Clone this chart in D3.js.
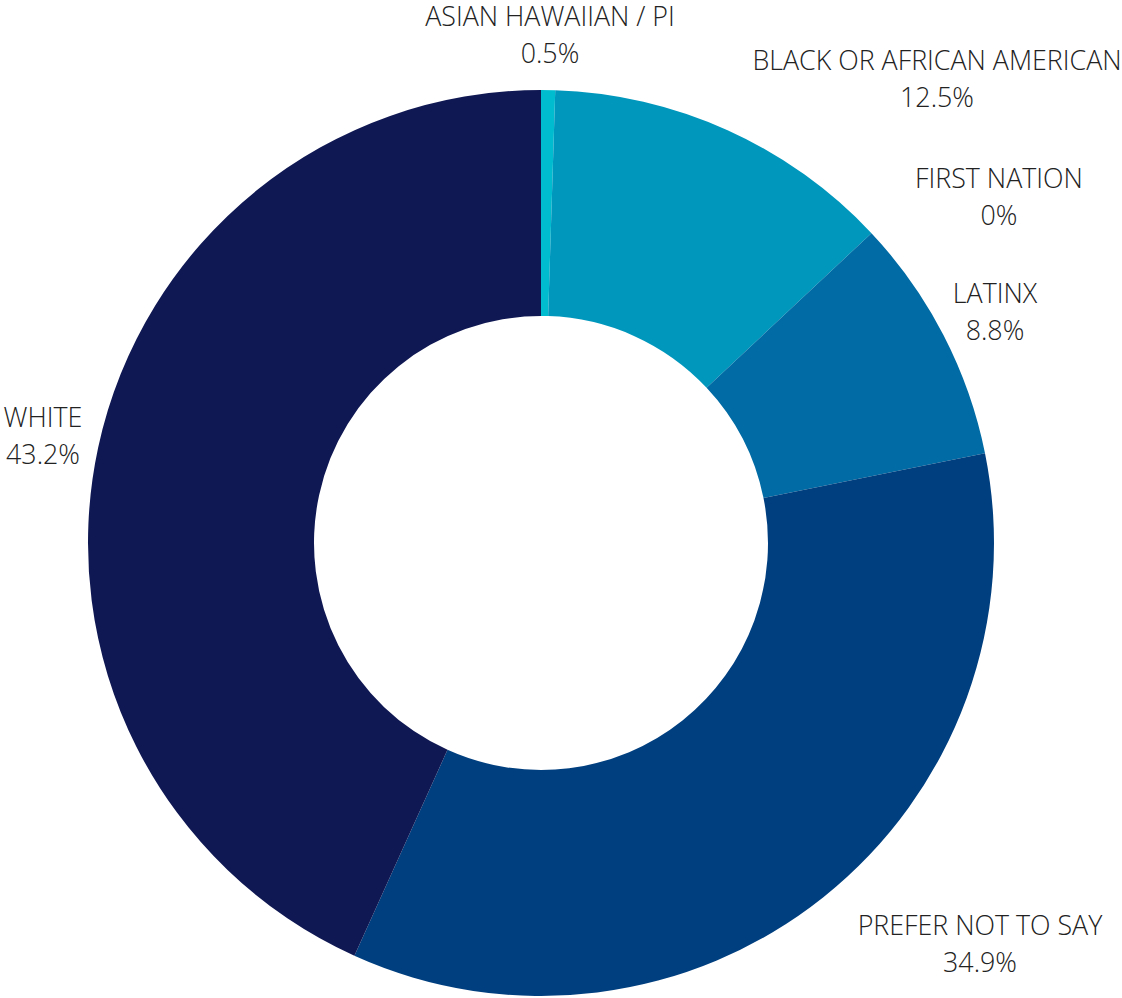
<!DOCTYPE html>
<html>
<head>
<meta charset="utf-8">
<script src="https://cdn.jsdelivr.net/npm/d3@7"></script>
<style>
  body { margin: 0; background: #fff; }
  text { font-family: "Open Sans", sans-serif; font-weight: 300; fill: #222; }
</style>
</head>
<body>
<svg id="chart"></svg>
<script>
// data
const categories = ['ASIAN HAWAIIAN / PI', 'BLACK OR AFRICAN AMERICAN', 'FIRST NATION', 'LATINX', 'PREFER NOT TO SAY', 'WHITE'];
const values = [0.5, 12.5, 0, 8.8, 34.9, 43.2];
const valueLabels = ['0.5%', '12.5%', '0%', '8.8%', '34.9%', '43.2%'];
const colors = ['#00bccf', '#0097bd', '#0097bd', '#006ba4', '#003f7f', '#101853'];

// label anchors (x, first baseline) - hand placed like the original layout
const labelLayout = [
  { x: 550, y: 26 },
  { x: 937, y: 70 },
  { x: 999, y: 188 },
  { x: 995, y: 303 },
  { x: 980, y: 935 },
  { x: 43, y: 427 }
];

const width = 1122, height = 998;
const cx = 541, cy = 543;
const outerR = 453, innerR = 227;

const svg = d3.select('#chart')
  .attr('width', width)
  .attr('height', height);

const data = categories.map((c, i) => ({ name: c, value: values[i], label: valueLabels[i], color: colors[i] }));

const pie = d3.pie()
  .value(d => d.value)
  .sort(null);

const arc = d3.arc()
  .innerRadius(innerR)
  .outerRadius(outerR);

const g = svg.append('g')
  .attr('transform', `translate(${cx},${cy})`);

g.selectAll('path')
  .data(pie(data))
  .join('path')
  .attr('d', arc)
  .attr('fill', d => d.data.color);

// labels
const labels = svg.append('g')
  .selectAll('text')
  .data(data)
  .join('text')
  .attr('text-anchor', 'middle')
  .attr('font-size', 26.8);

labels.append('tspan')
  .attr('x', (d, i) => labelLayout[i].x)
  .attr('y', (d, i) => labelLayout[i].y)
  .text(d => d.name);

labels.append('tspan')
  .attr('x', (d, i) => labelLayout[i].x)
  .attr('y', (d, i) => labelLayout[i].y + 37)
  .text(d => d.label);
</script>
</body>
</html>
